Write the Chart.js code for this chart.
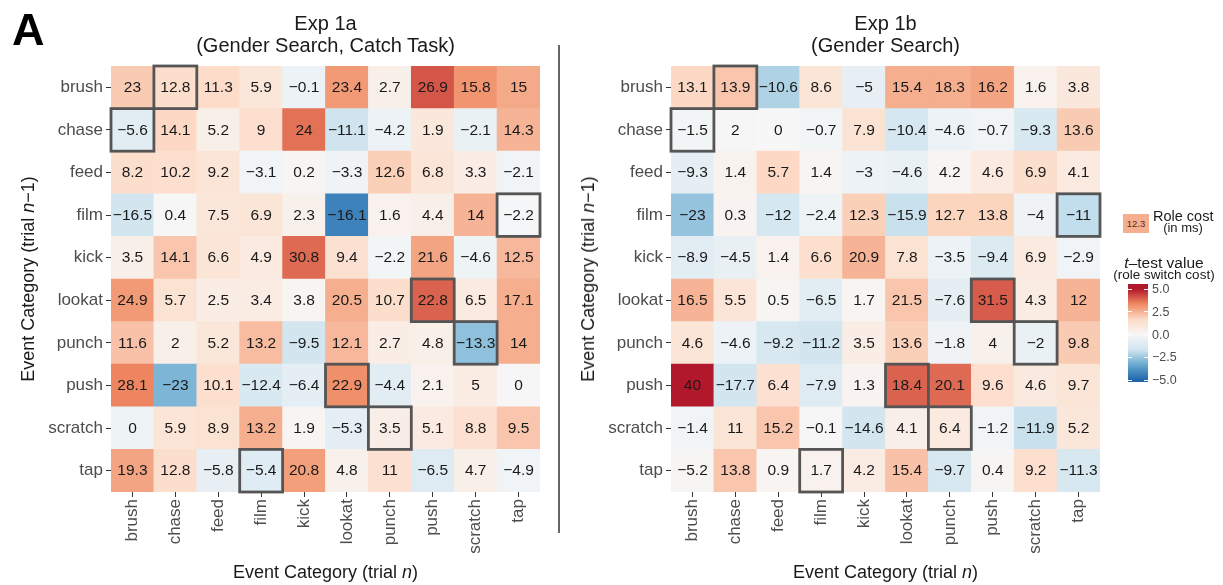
<!DOCTYPE html>
<html><head><meta charset="utf-8">
<script src="https://cdn.jsdelivr.net/npm/chart.js@4/dist/chart.umd.min.js"></script>
<style>
html,body{margin:0;padding:0;background:#fff;}
body{width:1223px;height:585px;position:relative;overflow:hidden;font-family:"Liberation Sans",Arial,Helvetica,sans-serif;color:#1a1a1a;}
.abs{position:absolute;white-space:nowrap;}
canvas{position:absolute;top:0;}
</style></head><body>
<canvas id="c1" width="560" height="585" style="left:0px"></canvas>
<canvas id="c2" width="560" height="585" style="left:560px"></canvas>

<div class="abs" style="left:12px;top:7px;font-size:45px;line-height:45px;font-weight:bold;color:#000;">A</div>
<div class="abs" style="left:111px;top:12px;width:429px;text-align:center;font-size:20px;line-height:22px;">Exp 1a<br>(Gender Search, Catch Task)</div>
<div class="abs" style="left:671px;top:12px;width:429px;text-align:center;font-size:20px;line-height:22px;">Exp 1b<br>(Gender Search)</div>
<div class="abs" style="left:557.5px;top:45px;width:2px;height:488px;background:#666;"></div>

<div class="abs" style="left:111px;top:563px;width:429px;text-align:center;font-size:18px;line-height:18px;">Event Category (trial <i>n</i>)</div>
<div class="abs" style="left:671px;top:563px;width:429px;text-align:center;font-size:18px;line-height:18px;">Event Category (trial <i>n</i>)</div>
<div class="abs" style="left:28px;top:279px;font-size:18px;line-height:18px;transform:translate(-50%,-50%) rotate(-90deg);">Event Category (trial <i>n</i>−1)</div>
<div class="abs" style="left:588px;top:279px;font-size:18px;line-height:18px;transform:translate(-50%,-50%) rotate(-90deg);">Event Category (trial <i>n</i>−1)</div>

<div id="legend"></div>

<script>
// ---- data ----
const rowLabels = ['brush','chase','feed','film','kick','lookat','punch','push','scratch','tap']; // trial n-1
const colLabels = ['brush','chase','feed','film','kick','lookat','punch','push','scratch','tap']; // trial n

// Role cost (ms), Exp 1a
const cost1a = [
  [23, 12.8, 11.3, 5.9, -0.1, 23.4, 2.7, 26.9, 15.8, 15],
  [-5.6, 14.1, 5.2, 9, 24, -11.1, -4.2, 1.9, -2.1, 14.3],
  [8.2, 10.2, 9.2, -3.1, 0.2, -3.3, 12.6, 6.8, 3.3, -2.1],
  [-16.5, 0.4, 7.5, 6.9, 2.3, -16.1, 1.6, 4.4, 14, -2.2],
  [3.5, 14.1, 6.6, 4.9, 30.8, 9.4, -2.2, 21.6, -4.6, 12.5],
  [24.9, 5.7, 2.5, 3.4, 3.8, 20.5, 10.7, 22.8, 6.5, 17.1],
  [11.6, 2, 5.2, 13.2, -9.5, 12.1, 2.7, 4.8, -13.3, 14],
  [28.1, -23, 10.1, -12.4, -6.4, 22.9, -4.4, 2.1, 5, 0],
  [0, 5.9, 8.9, 13.2, 1.9, -5.3, 3.5, 5.1, 8.8, 9.5],
  [19.3, 12.8, -5.8, -5.4, 20.8, 4.8, 11, -6.5, 4.7, -4.9]
];
// t-test value (estimated from fill colour), Exp 1a
const t1a = [
  [2.0, 1.5, 1.6, 1.0, -0.5, 3.0, 0.5, 4.1, 3.1, 2.7],
  [-0.9, 1.7, 0.5, 1.4, 3.7, -1.7, -0.5, 0.9, -0.6, 2.5],
  [1.5, 1.4, 1.1, -0.3, 0.1, -0.35, 1.9, 1.1, 0.6, -0.25],
  [-1.6, 0.05, 1.0, 1.1, 0.4, -4.3, 0.35, 0.5, 2.5, -0.1],
  [0.5, 2.1, 1.1, 0.8, 3.8, 1.3, -0.2, 2.8, -0.4, 2.4],
  [3.0, 1.2, 0.6, 0.7, 0.2, 2.6, 1.5, 3.9, 0.8, 2.6],
  [2.2, 0.5, 1.0, 2.3, -1.6, 2.4, 0.6, 0.5, -2.7, 2.6],
  [3.4, -3.0, 1.4, -1.3, -0.8, 3.2, -0.9, 0.35, 0.7, -0.05],
  [-0.4, 1.1, 1.2, 2.6, 0.2, -0.8, 0.55, 0.75, 1.3, 2.1],
  [2.8, 1.5, -0.7, -1.0, 2.9, 0.4, 1.3, -1.1, 0.5, -0.3]
];
// Role cost (ms), Exp 1b
const cost1b = [
  [13.1, 13.9, -10.6, 8.6, -5, 15.4, 18.3, 16.2, 1.6, 3.8],
  [-1.5, 2, 0, -0.7, 7.9, -10.4, -4.6, -0.7, -9.3, 13.6],
  [-9.3, 1.4, 5.7, 1.4, -3, -4.6, 4.2, 4.6, 6.9, 4.1],
  [-23, 0.3, -12, -2.4, 12.3, -15.9, 12.7, 13.8, -4, -11],
  [-8.9, -4.5, 1.4, 6.6, 20.9, 7.8, -3.5, -9.4, 6.9, -2.9],
  [16.5, 5.5, 0.5, -6.5, 1.7, 21.5, -7.6, 31.5, 4.3, 12],
  [4.6, -4.6, -9.2, -11.2, 3.5, 13.6, -1.8, 4, -2, 9.8],
  [40, -17.7, 6.4, -7.9, 1.3, 18.4, 20.1, 9.6, 4.6, 9.7],
  [-1.4, 11, 15.2, -0.1, -14.6, 4.1, 6.4, -1.2, -11.9, 5.2],
  [-5.2, 13.8, 0.9, 1.7, 4.2, 15.4, -9.7, 0.4, 9.2, -11.3]
];
// t-test value (estimated from fill colour), Exp 1b
const t1b = [
  [1.7, 2.1, -2.2, 1.1, -0.7, 2.6, 2.6, 2.8, 0.35, 0.9],
  [-0.2, 0.05, 0, -0.2, 1.2, -1.5, -0.5, -0.25, -1.3, 2.0],
  [-0.85, 0.3, 1.7, 0.2, -0.5, -0.6, 0.15, 0.8, 1.5, 0.8],
  [-2.6, 0.25, -1.5, -0.4, 1.9, -1.8, 1.8, 1.8, -0.35, -1.9],
  [-0.9, -0.65, 0.35, 1.4, 2.5, 1.2, -0.5, -1.2, 0.8, -0.3],
  [2.5, 1.1, 0.1, -0.95, 0.2, 2.1, -0.85, 4.0, 0.7, 2.5],
  [1.1, -0.5, -1.4, -1.6, 0.6, 1.9, -0.35, 0.4, -0.55, 2.0],
  [5.0, -1.6, 1.3, -1.1, 0.25, 3.9, 3.8, 1.4, 0.85, 1.1],
  [-0.25, 1.1, 2.1, -0.05, -1.6, 0.45, 0.8, -0.25, -1.8, 1.0],
  [0.1, 2.1, 0.2, 0.35, 0.7, 2.2, -1.4, 0.1, 1.4, -1.4]
];
// role-pair cells outlined [row, col]
const pairCells = [[0,1],[1,0],[3,9],[5,7],[6,8],[7,5],[8,6],[9,3]];
// colour bar tick labels
const legendTicks = [5.0, 2.5, 0.0, -2.5, -5.0];

// ---- colour scale (RdBu) ----
const stops = [[-5,'#2166ac'],[-3.333,'#67a9cf'],[-1.667,'#d1e5f0'],[0,'#f7f7f7'],[1.667,'#fddbc7'],[3.333,'#ef8a62'],[5,'#b2182b']];
function hex2rgb(h){return [parseInt(h.slice(1,3),16),parseInt(h.slice(3,5),16),parseInt(h.slice(5,7),16)];}
function colorFor(t){
  if (t <= stops[0][0]) return stops[0][1];
  if (t >= stops[stops.length-1][0]) return stops[stops.length-1][1];
  for (let i=0;i<stops.length-1;i++){
    const [a,ca]=stops[i],[b,cb]=stops[i+1];
    if (t>=a && t<=b){
      const f=(t-a)/(b-a), A=hex2rgb(ca), B=hex2rgb(cb);
      return 'rgb('+A.map((v,k)=>Math.round(v+(B[k]-v)*f)).join(',')+')';
    }
  }
}
function fmt(v){ return v < 0 ? '\u2212' + String(Math.abs(v)) : String(v); }
function fmt1(v){ const s = Math.abs(v).toFixed(1); return v < 0 ? '\u2212' + s : s; }

const FONT = '"Liberation Sans", Arial, Helvetica, sans-serif';

function makeChart(id, costs, tvals){
  const n = rowLabels.length;
  // stacked bars: dataset 0 is bottom row (tap), last is top row (brush)
  const datasets = [];
  for (let k=0;k<n;k++){
    const r = n-1-k;
    datasets.push({
      label: rowLabels[r],
      data: colLabels.map(()=>1),
      backgroundColor: tvals[r].map(colorFor),
      borderWidth: 0,
      barPercentage: 1,
      categoryPercentage: 1
    });
  }
  const cellPlugin = {
    id: 'cellText',
    afterDatasetsDraw(chart){
      const ctx = chart.ctx;
      ctx.save();
      ctx.font = '15.5px ' + FONT;
      ctx.fillStyle = '#1a1a1a';
      ctx.textAlign = 'center';
      ctx.textBaseline = 'middle';
      chart.data.datasets.forEach((ds, di)=>{
        const r = n-1-di;
        chart.getDatasetMeta(di).data.forEach((el, c)=>{
          ctx.fillText(fmt(costs[r][c]), el.x, (el.y+el.base)/2 + 0.5);
        });
      });
      ctx.strokeStyle = '#555';
      ctx.lineWidth = 2.8;
      pairCells.forEach(([r,c])=>{
        const el = chart.getDatasetMeta(n-1-r).data[c];
        ctx.strokeRect(el.x - el.width/2, el.y, el.width, el.base - el.y);
      });
      ctx.restore();
    }
  };
  const tickStyle = {color:'#4d4d4d', font:{family:FONT, size:17}};
  return new Chart(document.getElementById(id), {
    type: 'bar',
    data: { labels: colLabels, datasets },
    options: {
      responsive: false,
      animation: false,
      layout: { padding: { top: 66, right: 20, left: 0, bottom: 0 } },
      plugins: { legend: {display:false}, tooltip: {enabled:false}, title:{display:false} },
      scales: {
        x: {
          type: 'category', stacked: true, offset: true,
          grid: { display: true, drawOnChartArea: false, drawTicks: true, tickLength: 5, color: '#333', offset: false },
          border: { display: false },
          ticks: Object.assign({ minRotation: 90, maxRotation: 90, autoSkip: false, padding: 2 }, tickStyle),
          afterFit: s => { s.height = 93; }
        },
        y: { type: 'linear', stacked: true, min: 0, max: n, display: false },
        yl: {
          type: 'category', axis: 'y', position: 'left', labels: rowLabels, offset: true,
          grid: { display: true, drawOnChartArea: false, drawTicks: true, tickLength: 5, color: '#333', offset: false },
          border: { display: false },
          ticks: Object.assign({ autoSkip: false, padding: 3 }, tickStyle),
          afterFit: s => { s.width = 111; }
        }
      }
    },
    plugins: [cellPlugin]
  });
}

makeChart('c1', cost1a, t1a);
makeChart('c2', cost1b, t1b);

// ---- legend ----
(function(){
  const L = document.getElementById('legend');
  let html = '';
  html += '<div class="abs" style="left:1123px;top:214px;width:26px;height:19px;background:'+colorFor(2.6)+';font-size:9.5px;line-height:19px;text-align:center;color:#5a2a1e;">12.3</div>';
  html += '<div class="abs" style="left:1153px;top:209px;font-size:14.5px;line-height:14px;">Role cost</div>';
  html += '<div class="abs" style="left:1153px;top:221px;width:60px;text-align:center;font-size:13px;line-height:13px;">(in ms)</div>';
  html += '<div class="abs" style="left:1113px;top:255px;width:102px;text-align:center;font-size:15.5px;line-height:15px;"><i>t</i>–test value</div>';
  html += '<div class="abs" style="left:1111px;top:268px;width:106px;text-align:center;font-size:13.5px;line-height:13px;">(role switch cost)</div>';
  // colour bar
  const top = 284, bottom = 382, yTop = 289, yBot = 380;
  const tAt = y => 5 - (y - yTop) * 10 / (yBot - yTop);
  const g = [];
  for (let y = top; y <= bottom; y += 2) g.push(colorFor(tAt(y)) + ' ' + ((y-top)/(bottom-top)*100).toFixed(1) + '%');
  html += '<div class="abs" style="left:1128px;top:'+top+'px;width:20px;height:'+(bottom-top)+'px;background:linear-gradient(to bottom,'+g.join(',')+');"></div>';
  legendTicks.forEach(v=>{
    const y = yTop + (5 - v) * (yBot - yTop) / 10;
    html += '<div class="abs" style="left:1128px;top:'+(y-0.5)+'px;width:4px;height:1px;background:#fff;"></div>';
    html += '<div class="abs" style="left:1144px;top:'+(y-0.5)+'px;width:4px;height:1px;background:#fff;"></div>';
    html += '<div class="abs" style="left:1152px;top:'+(y-6)+'px;font-size:12.5px;line-height:12px;color:#4d4d4d;">'+fmt1(v)+'</div>';
  });
  L.innerHTML = html;
})();
</script>
</body></html>
